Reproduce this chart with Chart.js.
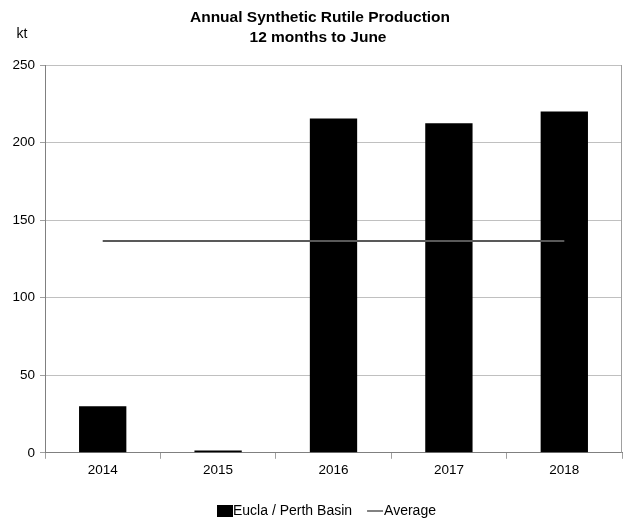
<!DOCTYPE html>
<html>
<head>
<meta charset="utf-8">
<script src="https://cdn.jsdelivr.net/npm/chart.js@4"></script>
<style>
  html, body { margin: 0; padding: 0; background: #fff; }
  #wrap { width: 623px; height: 523px; position: relative; }
</style>
</head>
<body>
<div id="wrap"><canvas id="rutileChart"></canvas></div>
<script>
const years = ['2014', '2015', '2016', '2017', '2018'];
const production = [30, 1.5, 215.5, 212.5, 220];
const average = [136.5, 136.5, 136.5, 136.5, 136.5];
const yTicks = [0, 50, 100, 150, 200, 250];
const titleLines = ['Annual Synthetic Rutile Production', '12 months to June'];

const fontFamily = "'Liberation Sans Narrow', 'Arial Narrow', 'Liberation Sans', Arial, sans-serif";

// title, unit label, right border and legend drawn by hand
const headerPlugin = {
    id: 'header',
    afterDraw(chart) {
        const c = chart.ctx;
        const a = chart.chartArea;
        c.save();
        c.fillStyle = '#000';
        c.textAlign = 'center';
        c.textBaseline = 'middle';
        c.font = 'bold 15.5px ' + fontFamily;
        c.fillText(titleLines[0], 320, 18);
        c.fillText(titleLines[1], 318, 38);
        c.font = '14px ' + fontFamily;
        c.fillText('kt', 22, 34);

        c.strokeStyle = '#a0a0a0';
        c.lineWidth = 1;
        c.beginPath();
        c.moveTo(Math.round(a.right) - 0.5, a.top);
        c.lineTo(Math.round(a.right) - 0.5, a.bottom);
        c.stroke();

        // legend
        const barDs = chart.data.datasets[1];
        const lineDs = chart.data.datasets[0];
        c.textAlign = 'left';
        c.font = '14px ' + fontFamily;
        let x = 217;
        const y = 511;
        c.fillStyle = barDs.backgroundColor;
        c.fillRect(x, y - 6, 16, 12);
        x += 16;
        c.fillStyle = '#000';
        c.fillText(barDs.label, x, y);
        x += c.measureText(barDs.label).width + 15;
        c.strokeStyle = lineDs.borderColor;
        c.lineWidth = 1.5;
        c.beginPath();
        c.moveTo(x, y);
        c.lineTo(x + 16, y);
        c.stroke();
        c.fillText(lineDs.label, x + 17, y);
        c.restore();
    }
};

const ctx = document.getElementById('rutileChart');

new Chart(ctx.getContext('2d'), {
    data: {
        labels: years,
        datasets: [{
            type: 'line',
            label: 'Average',
            data: average,
            borderColor: '#595959',
            borderWidth: 2,
            pointRadius: 0,
            fill: false,
            order: 0
        }, {
            type: 'bar',
            label: 'Eucla / Perth Basin',
            data: production,
            backgroundColor: '#000000',
            borderWidth: 0,
            barPercentage: 0.41,
            categoryPercentage: 1,
            order: 1
        }]
    },
    options: {
        responsive: true,
        maintainAspectRatio: false,
        animation: false,
        layout: {
            padding: { top: 65, right: 1, left: 0, bottom: 42 }
        },
        plugins: {
            title: { display: false },
            tooltip: { enabled: false },
            legend: { display: false }
        },
        scales: {
            x: {
                offset: true,
                grid: {
                    offset: true,
                    drawOnChartArea: false,
                    tickLength: 6,
                    tickColor: '#a0a0a0'
                },
                border: { color: '#808080' },
                ticks: {
                    color: '#000',
                    padding: 3,
                    maxRotation: 0,
                    font: { family: fontFamily, size: 13.5 }
                }
            },
            y: {
                min: 0,
                max: 250,
                afterBuildTicks(scale) {
                    scale.ticks = yTicks.map(v => ({ value: v }));
                },
                afterFit(scale) {
                    scale.width = 45;
                },
                grid: {
                    color: '#c0c0c0',
                    tickLength: 5,
                    tickColor: '#a0a0a0'
                },
                border: { color: '#808080' },
                ticks: {
                    color: '#000',
                    padding: 5,
                    font: { family: fontFamily, size: 13.5 }
                }
            }
        }
    },
    plugins: [headerPlugin]
});
</script>
</body>
</html>
